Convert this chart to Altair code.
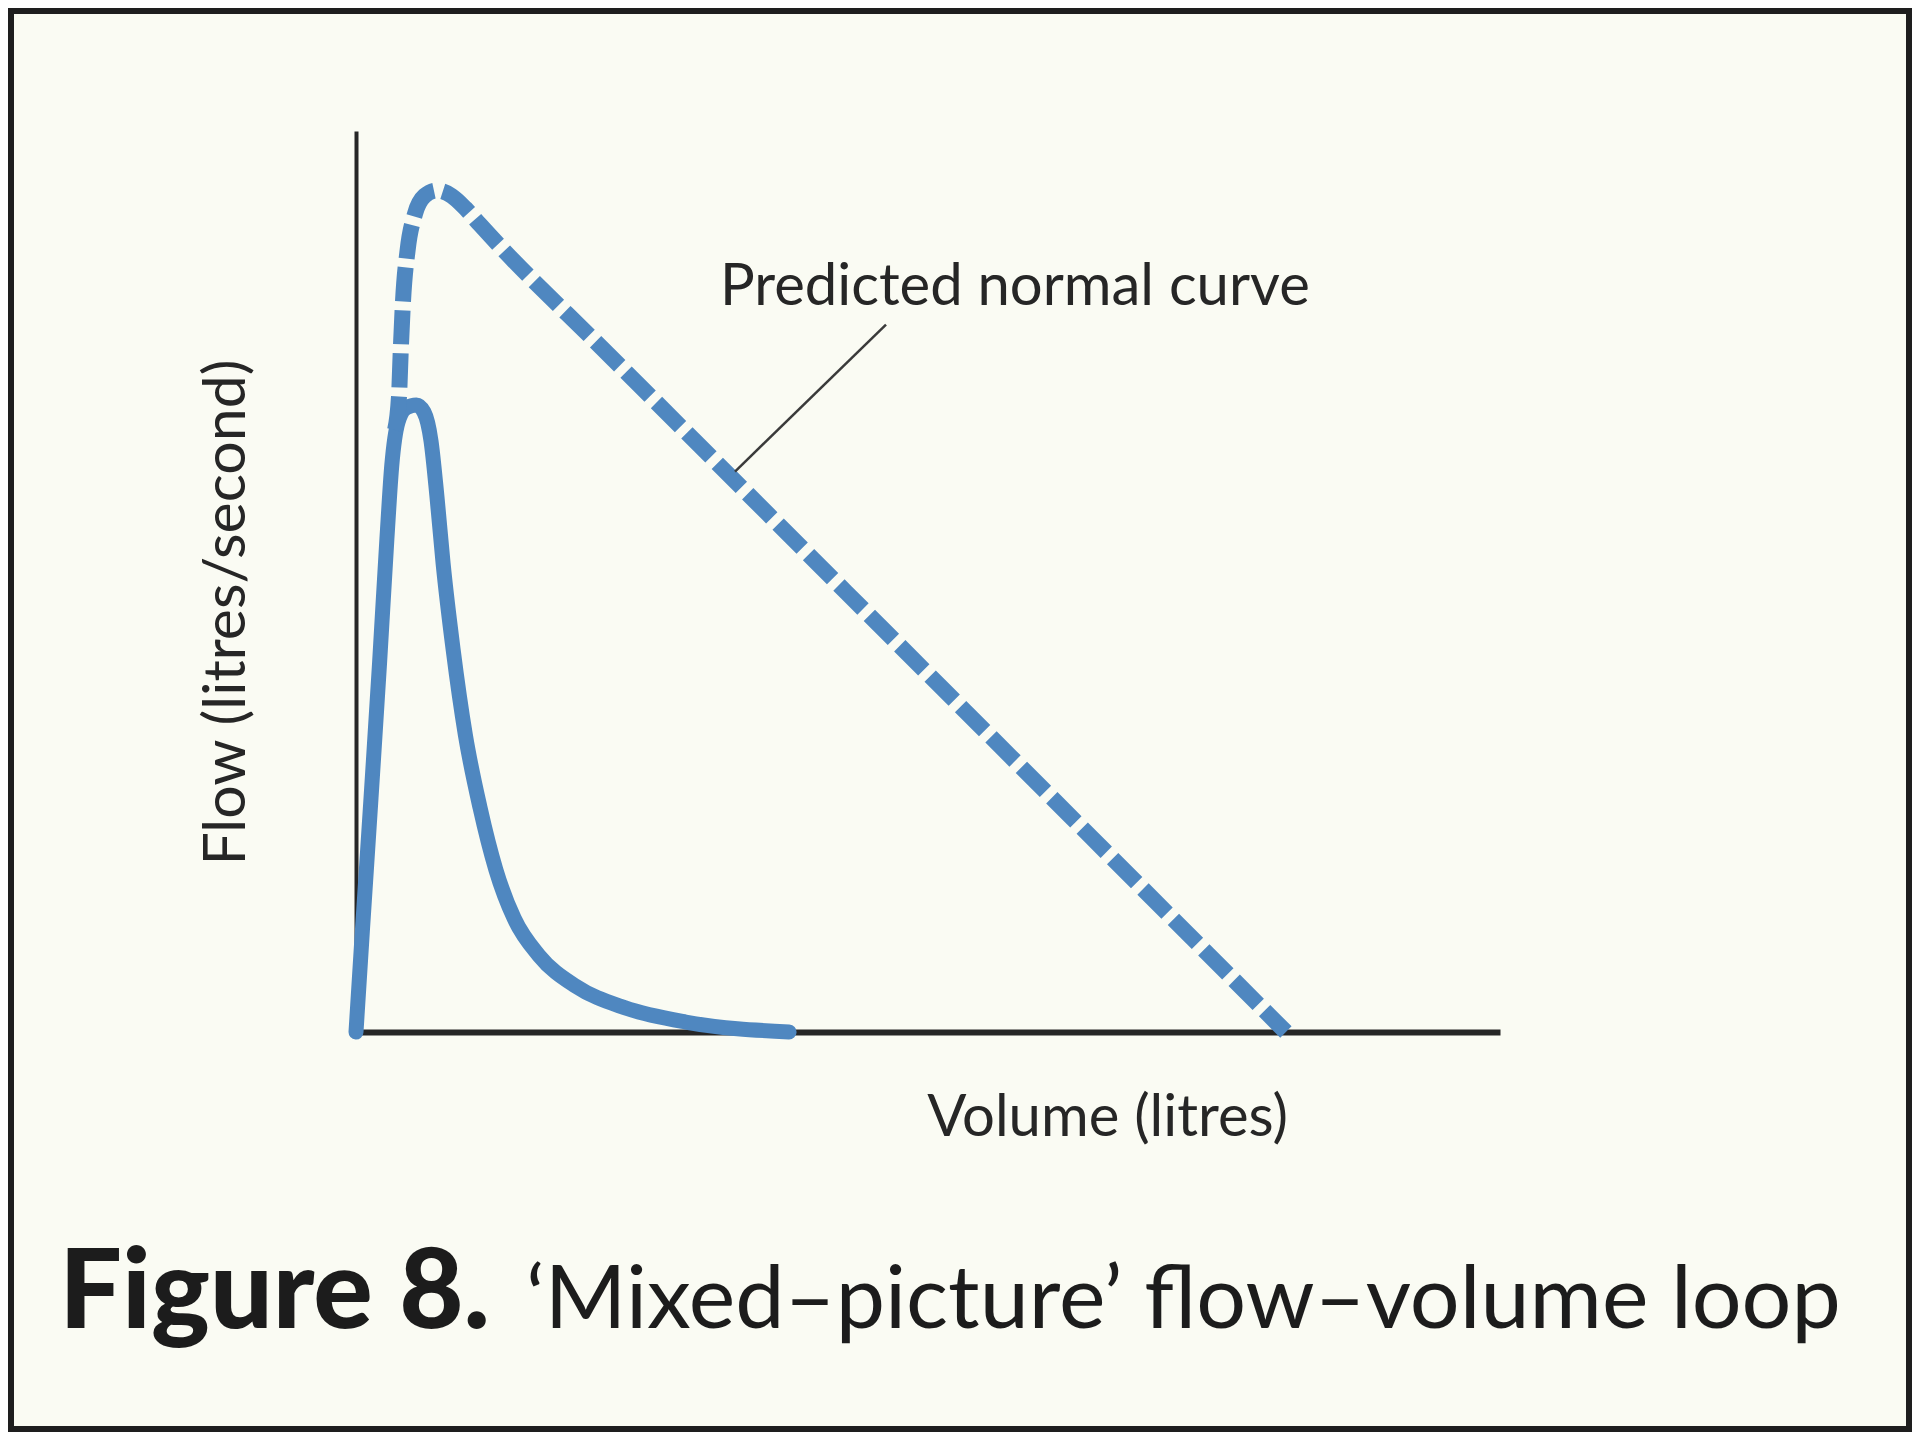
import altair as alt
import pandas as pd

# ---- data (arbitrary units, no tick labels shown) ----
measured_volume = [0.000, 0.039, 0.092, 0.144, 0.189, 0.219, 0.257, 0.309, 0.369,
                   0.416, 0.459, 0.495, 0.533, 0.594, 0.669, 0.759, 0.856, 0.968,
                   1.119, 1.343, 1.643, 2.017, 2.650]
measured_flow = [0.00, 1.12, 2.60, 4.09, 5.47, 6.29, 6.77, 6.93, 6.96,
                 6.88, 6.56, 5.95, 5.20, 4.25, 3.30, 2.49, 1.80, 1.26,
                 0.85, 0.51, 0.27, 0.11, 0.00]

predicted_volume = [0.239, 0.263, 0.274, 0.288, 0.316, 0.361, 0.420, 0.495, 0.585,
                    0.670, 0.759, 0.881, 1.500, 3.000, 4.500, 5.690]
predicted_flow = [6.68, 7.05, 7.57, 8.12, 8.68, 9.08, 9.28, 9.34, 9.28,
                  9.14, 8.96, 8.72, 7.60, 4.88, 2.16, 0.00]

annotation_label = ["Predicted normal curve"]
annotation_volume = [2.227]
annotation_flow = [8.07]
leader_volume = [3.243]
leader_flow = [7.85]
leader_volume_end = [2.319]
leader_flow_end = [6.22]

x_title = "Volume (litres)"
y_title = "Flow (litres/second)"
caption_bold = ["Figure 8."]
caption_rest = ["\u2018Mixed\u2013picture\u2019 flow\u2013volume loop"]

# ---- tables ----
measured = pd.DataFrame({"volume": measured_volume, "flow": measured_flow})
predicted = pd.DataFrame({"volume": predicted_volume, "flow": predicted_flow})
annot = pd.DataFrame({"label": annotation_label, "volume": annotation_volume,
                      "flow": annotation_flow})
leader = pd.DataFrame({"volume": leader_volume, "flow": leader_flow,
                       "volume2": leader_volume_end, "flow2": leader_flow_end})
cap1 = pd.DataFrame({"label": caption_bold})
cap2 = pd.DataFrame({"label": caption_rest})

BLUE = "#4f87c0"
INK = "#262626"
FONT = "Lato"

PLOT_W, PLOT_H = 1144, 901
TOTAL_W, TOTAL_H = 1904, 1424
PAD_L, PAD_T = 348, 123

x_scale = alt.Scale(domain=[0, 7], nice=False, zero=False)
y_scale = alt.Scale(domain=[0, 10], nice=False, zero=False)

x_axis = alt.Axis(title=x_title, ticks=False, labels=False, grid=False,
                  domainColor=INK, domainWidth=6,
                  titleX=751, titleY=103, titleAlign="center",
                  titleBaseline="alphabetic", titleFont=FONT, titleFontSize=58,
                  titleFontWeight="normal", titleColor=INK)
y_axis = alt.Axis(title=y_title, ticks=False, labels=False, grid=False,
                  domainColor=INK, domainWidth=4,
                  titleX=-112, titleY=481, titleAngle=270, titleAlign="center",
                  titleBaseline="alphabetic", titleFont=FONT, titleFontSize=59,
                  titleFontWeight="normal", titleColor=INK)

X = alt.X("volume:Q", scale=x_scale, axis=x_axis)
Y = alt.Y("flow:Q", scale=y_scale, axis=y_axis)

measured_line = alt.Chart(measured).mark_line(
    color=BLUE, strokeWidth=15, interpolate="monotone", strokeCap="round",
    strokeJoin="round"
).encode(x=X, y=Y)

predicted_line = alt.Chart(predicted).mark_line(
    color=BLUE, strokeWidth=16, interpolate="monotone", strokeDash=[34, 9],
    strokeCap="butt"
).encode(x=X, y=Y)

leader_rule = alt.Chart(leader).mark_rule(color="#3a3a3a", strokeWidth=2.5).encode(
    x=X, y=Y, x2="volume2:Q", y2="flow2:Q"
)

annot_text = alt.Chart(annot).mark_text(
    align="left", baseline="alphabetic", font=FONT, fontSize=58, color=INK
).encode(x=X, y=Y, text="label:N")

caption_a = alt.Chart(cap1).mark_text(
    align="right", baseline="alphabetic", font=FONT, fontSize=111,
    fontWeight=900, color="#1c1c1c"
).encode(x=alt.value(134), y=alt.value(1197), text="label:N")

caption_b = alt.Chart(cap2).mark_text(
    align="left", baseline="alphabetic", font=FONT, fontSize=88,
    fontWeight="normal", color="#1c1c1c"
).encode(x=alt.value(170), y=alt.value(1197), text="label:N")

frame = alt.Chart(cap1).mark_rect(
    filled=False, stroke="#1e1e1e", strokeWidth=6
).encode(x=alt.value(-PAD_L + 3), x2=alt.value(TOTAL_W - PAD_L - 3),
         y=alt.value(-PAD_T + 3), y2=alt.value(TOTAL_H - PAD_T - 3))

chart = alt.layer(
    measured_line, predicted_line, leader_rule, annot_text, caption_a, caption_b, frame
).properties(
    width=PLOT_W, height=PLOT_H,
    autosize=alt.AutoSizeParams(type="none"),
    padding={"left": PAD_L, "top": PAD_T,
             "right": TOTAL_W - PAD_L - PLOT_W, "bottom": TOTAL_H - PAD_T - PLOT_H},
    background="#fafbf3",
).configure_view(stroke=None)

chart.save("out.html", embed_options={"renderer": "svg", "actions": False})
